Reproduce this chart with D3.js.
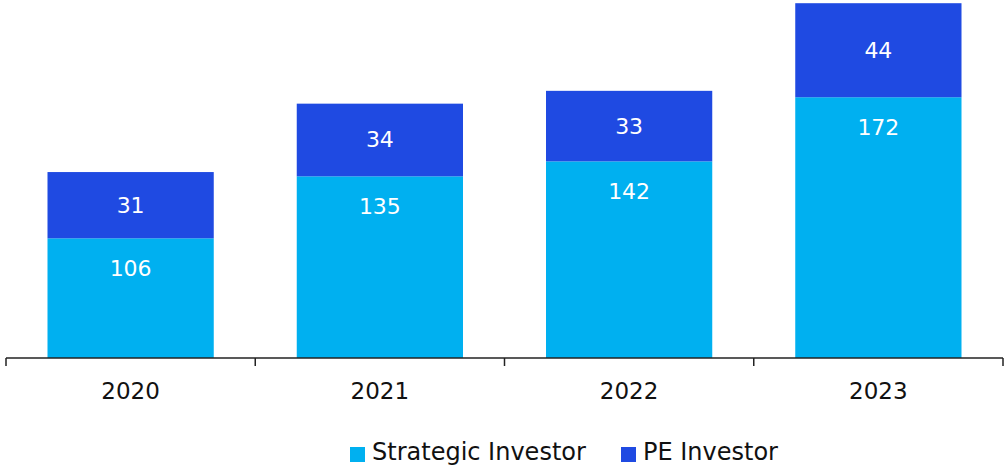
<!DOCTYPE html>
<html><head><meta charset="utf-8">
<script src="https://cdn.jsdelivr.net/npm/d3@7"></script>
<style>body{margin:0;background:#fff}svg{display:block;font-family:"DejaVu Sans",sans-serif}</style>
</head><body><svg id="c" width="1004" height="471"></svg>
<script>
const years = ["2020","2021","2022","2023"];
const strategic = [106,135,142,172];
const pe = [31,34,33,44];
const seriesNames = ["Strategic Investor","PE Investor"];
const colors = ["#00B0F0","#1F4AE2"];

const svg = d3.select("#c");
const x = d3.scaleBand().domain(years).range([6,1003]).paddingInner(0.333).paddingOuter(0.1665);
const y = d3.scaleLinear().domain([50,217.5]).range([358,0]);

const data = years.map((yr,i)=>({yr, s:strategic[i], p:pe[i]}));
const g = svg.append("g");
g.selectAll(".s").data(data).enter().append("rect")
  .attr("x",d=>x(d.yr)).attr("width",x.bandwidth())
  .attr("y",d=>y(d.s)).attr("height",d=>y(50)-y(d.s)).attr("fill",colors[0]);
g.selectAll(".p").data(data).enter().append("rect")
  .attr("x",d=>x(d.yr)).attr("width",x.bandwidth())
  .attr("y",d=>y(d.s+d.p)).attr("height",d=>y(d.s)-y(d.s+d.p)).attr("fill",colors[1]);
g.selectAll(".sl").data(data).enter().append("text")
  .attr("x",d=>x(d.yr)+x.bandwidth()/2).attr("y",d=>y(d.s)+30)
  .attr("text-anchor","middle").attr("dominant-baseline","central")
  .attr("fill","#fff").attr("font-size",22).text(d=>d.s);
g.selectAll(".pl").data(data).enter().append("text")
  .attr("x",d=>x(d.yr)+x.bandwidth()/2).attr("y",d=>(y(d.s)+y(d.s+d.p))/2)
  .attr("text-anchor","middle").attr("dominant-baseline","central")
  .attr("fill","#fff").attr("font-size",22).text(d=>d.p);

const ax = svg.append("g").attr("transform","translate(0,358)");
ax.append("line").attr("x1",6).attr("x2",1003).attr("stroke","#222").attr("stroke-width",1.5);
const edges = years.map(yr=>x(yr)-x.step()*x.paddingInner()/2);
edges.push(1003);
ax.selectAll(".t").data(edges).enter().append("line")
  .attr("x1",d=>d).attr("x2",d=>d).attr("y1",0).attr("y2",8).attr("stroke","#222").attr("stroke-width",1.5);
ax.selectAll(".yl").data(years).enter().append("text")
  .attr("x",d=>x(d)+x.bandwidth()/2).attr("y",41)
  .attr("text-anchor","middle").attr("font-size",23).attr("fill","#111").text(d=>d);

const leg = svg.append("g");
const lx = [350,621];
seriesNames.forEach((n,i)=>{
  leg.append("rect").attr("x",lx[i]).attr("y",447).attr("width",15).attr("height",15).attr("fill",colors[i]);
  leg.append("text").attr("x",lx[i]+22).attr("y",460).attr("font-size",24).attr("fill","#111").text(n);
});
</script></body></html>
